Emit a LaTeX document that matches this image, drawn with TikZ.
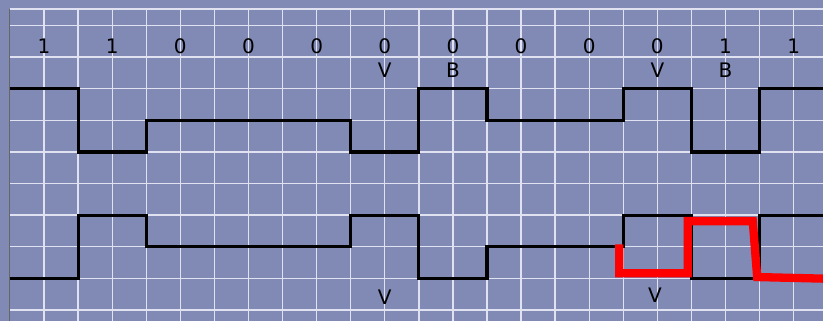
\documentclass[tikz,border=0pt]{standalone}
\usepackage{fontspec}
\setmainfont{DejaVu Sans}
\definecolor{gridbg}{RGB}{128,138,181}
\definecolor{gridline}{RGB}{224,226,242}
\definecolor{markred}{RGB}{255,0,0}

\begin{document}
\begin{tikzpicture}[x=34.07pt, y=-31.6pt, font=\fontsize{20}{20}\selectfont,
    gridrule/.style={gridline, line width=1.3pt},
    signal/.style={black, line width=3.2pt, line join=miter},
    label/.style={anchor=base, inner sep=0pt}]
        \def\rightedge{23.862}
        \def\topedge{-0.522}

        \useasboundingbox (-0.2935,-0.807) rectangle (\rightedge,9.351);
        \fill[gridbg] (-0.2935,-0.807) rectangle (\rightedge,9.351);

        \foreach \k in {1,...,23}
            \draw[gridrule] (\k,\topedge) -- (\k,9.351);
        \foreach \j in {0,...,9}
            \draw[gridrule] (0,\j) -- (\rightedge,\j);
        \draw[gridrule] (0,\topedge) -- (\rightedge,\topedge);
        \draw[black!60, line width=1pt] (0,\topedge) -- (0,9.351);

        \foreach \b [count=\i] in {1,1,0,0,0,0,0,0,0,0,1,1}
            \node[label] (bit\i) at ({2*\i-1},0.9) {\b};

        \node[label] (v1) at (11,1.66) {V};
        \node[label] (b1) at (13,1.66) {B};
        \node[label] (v2) at (19,1.66) {V};
        \node[label] (b2) at (21,1.66) {B};

        \draw[signal] (0,2) -- (2,2) -- (2,4) -- (4,4) -- (4,3) -- (10,3) -- (10,4) -- (12,4)
            -- (12,2) -- (14,2) -- (14,3) -- (18,3) -- (18,2) -- (20,2) -- (20,4) -- (22,4)
            -- (22,2) -- (\rightedge,2);

        \draw[signal] (0,8) -- (2,8) -- (2,6) -- (4,6) -- (4,7) -- (10,7) -- (10,6) -- (12,6)
            -- (12,8) -- (14,8) -- (14,7) -- (18,7) -- (18,6) -- (20,6) -- (20,8) -- (22,8)
            -- (22,6) -- (\rightedge,6);

        \draw[markred, line width=8.3pt, line join=miter] (17.88,6.93) -- (17.88,7.84) -- (19.89,7.84)
            -- (19.89,6.19) -- (21.8,6.19) -- (21.93,7.96) -- (\rightedge,8.01);

        \node[label] (v3) at (11,8.84) {V};
        \node[label] (v4) at (18.93,8.75) {V};

    \end{tikzpicture}
\end{document}
